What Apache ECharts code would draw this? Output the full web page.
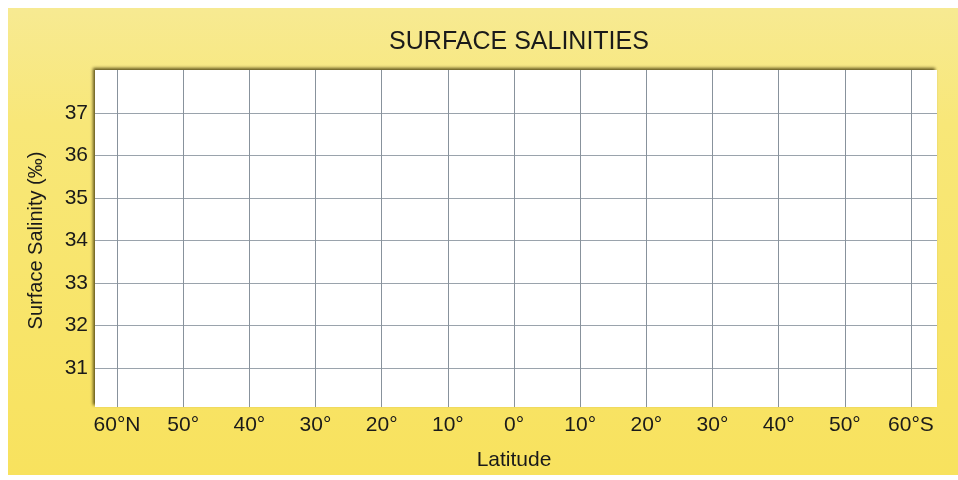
<!DOCTYPE html>
<html>
<head>
<meta charset="utf-8">
<script src="https://cdn.jsdelivr.net/npm/echarts@6/dist/echarts.min.js"></script>
<style>
html,body{margin:0;padding:0;background:#ffffff;}
#chart{width:958px;height:480px;}
</style>
</head>
<body>
<div id="chart"></div>
<script>
// Data (chart is an empty worksheet grid)
const latitudeValues = [-60, -50, -40, -30, -20, -10, 0, 10, 20, 30, 40, 50, 60];
const latitudeLabels = ['60°N', '50°', '40°', '30°', '20°', '10°', '0°', '10°', '20°', '30°', '40°', '50°', '60°S'];
const salinityTicks = [31, 32, 33, 34, 35, 36, 37];
const salinitySeries = [];

const FONT = 'Liberation Sans, Arial, Helvetica, sans-serif';
const labelMap = {};
latitudeValues.forEach((v, i) => { labelMap[v] = latitudeLabels[i]; });
const HGRID = '#9aa3ac';
// split lines run 30..38; hide the 30 (below the panel) and 38 (panel edge) lines
const hLineColors = ['rgba(0,0,0,0)'].concat(salinityTicks.map(() => HGRID));

const chart = echarts.init(document.getElementById('chart'), null, {renderer: 'canvas'});
chart.setOption({
  animation: false,
  backgroundColor: '#ffffff',
  graphic: [{
    type: 'rect',
    z: -10,
    silent: true,
    shape: {x: 8, y: 8, width: 950, height: 467},
    style: {
      fill: new echarts.graphic.LinearGradient(0, 0, 0, 1, [
        {offset: 0, color: '#f7ea92'},
        {offset: 0.25, color: '#f8e778'},
        {offset: 1, color: '#f8e25e'}
      ])
    }
  }],
  title: {
    text: 'SURFACE SALINITIES',
    left: 514,
    top: 25,
    textAlign: 'center',
    textStyle: {fontFamily: FONT, fontSize: 25, fontWeight: 'normal', color: '#1a1a1a'}
  },
  grid: [
    {
      left: 95, top: 70, width: 842, height: 337,
      show: true, backgroundColor: '#ffffff', borderWidth: 0,
      shadowColor: 'rgba(70,60,10,0.85)', shadowBlur: 3, shadowOffsetX: -2, shadowOffsetY: -2
    },
    {
      left: 95, top: 70.5, width: 842, height: 340
    },
    {
      left: 117, top: 70, width: 794, height: 337
    }
  ],
  xAxis: [
    {gridIndex: 0, type: 'value', min: 0, max: 1, show: false},
    {gridIndex: 1, type: 'value', min: 0, max: 1, show: false},
    {
      gridIndex: 2, type: 'value', min: -60, max: 60, interval: 10,
      name: 'Latitude', nameLocation: 'middle', nameGap: 43,
      nameTextStyle: {fontFamily: FONT, fontSize: 21, color: '#1a1a1a'},
      axisLine: {show: false}, axisTick: {show: false},
      axisLabel: {
        margin: 8, fontFamily: FONT, fontSize: 21, color: '#1a1a1a',
        formatter: v => (labelMap[v] !== undefined ? labelMap[v] : '')
      },
      splitLine: {show: true, lineStyle: {color: '#88929c', width: 1}}
    }
  ],
  yAxis: [
    {gridIndex: 0, type: 'value', min: 0, max: 1, show: false},
    {
      gridIndex: 1, type: 'value', min: 30, max: 38, interval: 1,
      name: 'Surface Salinity (‰)', nameLocation: 'middle', nameGap: 49,
      nameTextStyle: {fontFamily: FONT, fontSize: 20, color: '#1a1a1a'},
      axisLine: {show: false}, axisTick: {show: false},
      axisLabel: {
        margin: 7, fontFamily: FONT, fontSize: 21, color: '#1a1a1a',
        formatter: v => (salinityTicks.indexOf(v) >= 0 ? String(v) : '')
      },
      splitLine: {show: true, lineStyle: {color: hLineColors, width: 1}}
    },
    {gridIndex: 2, type: 'value', min: 30, max: 38, show: false}
  ],
  series: [
    {type: 'line', xAxisIndex: 2, yAxisIndex: 2, data: salinitySeries, symbol: 'none'}
  ]
});
</script>
</body>
</html>
